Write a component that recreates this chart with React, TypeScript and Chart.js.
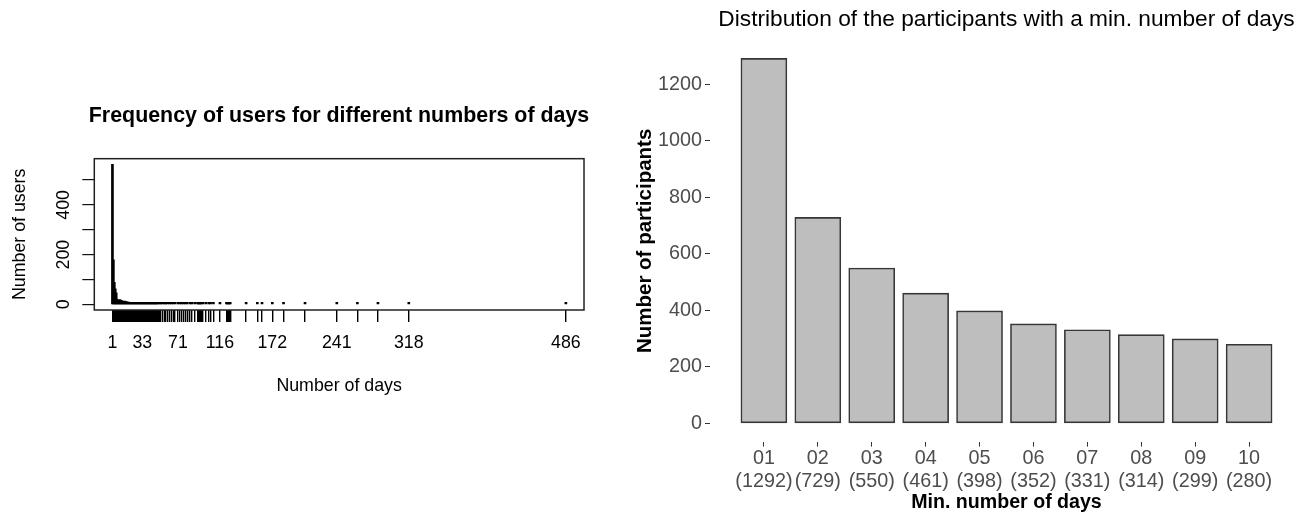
import React, { useEffect, useRef } from 'react';
import { Chart, registerables } from 'chart.js';

Chart.register(...registerables);

const FONT = '"Liberation Sans", Arial, Helvetica, sans-serif';

// ---------- Left chart: frequency of users per number of days ----------
const leftDays = [
  1, 2, 3, 4, 5, 6, 7, 8, 9, 10, 11, 12, 13, 14, 15, 16, 17, 18, 19, 20,
  21, 22, 23, 24, 25, 26, 27, 28, 29, 30, 31, 32, 33, 34, 35, 36, 37, 38, 39, 40,
  41, 42, 43, 44, 45, 46, 47, 48,
  49, 50, 52, 53, 55, 57, 58, 60, 62, 64, 66, 68, 71, 73, 75, 77, 79, 81, 84, 86,
  89, 92, 93, 94, 95, 96, 98, 101, 104, 106, 109, 116, 123, 124, 125, 126, 127,
  144, 156, 161, 172, 184, 207, 241, 263, 285, 318, 486,
];
const leftCounts = [
  563, 179, 89, 63, 46, 21, 17, 15, 19, 16, 14, 13, 12, 13, 11, 10, 9, 9, 7, 8,
  8, 7, 7, 5, 6, 5, 5, 4, 5, 4, 4, 3, 4, 3, 3, 3, 2, 3, 2, 2,
  2, 3, 2, 2, 2, 1, 2, 2,
  2, 2, 2, 1, 2, 1, 2, 1, 2, 1, 1, 2, 1, 1, 2, 1, 1, 1, 1, 1,
  1, 1, 1, 2, 1, 1, 1, 1, 1, 1, 1, 1, 1, 1, 1, 1, 1,
  1, 1, 1, 1, 1, 1, 1, 1, 1, 1, 1,
];
const leftLabeledDays = [1, 33, 71, 116, 172, 241, 318, 486];
const leftYTicks = [0, 100, 200, 300, 400, 500];
const leftYLabeled = [0, 200, 400];

// ---------- Right chart: participants with a min. number of days ----------
const rightCategories = ['01', '02', '03', '04', '05', '06', '07', '08', '09', '10'];
const rightPositions = [1, 2, 3, 4, 5, 6, 7, 8, 9, 10];
const rightValues = [1292, 729, 550, 461, 398, 352, 331, 314, 299, 280];
const rightYTicks = [0, 200, 400, 600, 800, 1000, 1200];

const framePlugin = {
  id: 'frame',
  afterDatasetsDraw(chart: any) {
    const { ctx, chartArea: a } = chart;
    ctx.save();
    ctx.strokeStyle = '#222';
    ctx.lineWidth = 1.5;
    ctx.strokeRect(a.left, a.top, a.right - a.left, a.bottom - a.top);
    ctx.restore();
  },
};

export default function App() {
  const leftRef = useRef<HTMLCanvasElement | null>(null);
  const rightRef = useRef<HTMLCanvasElement | null>(null);

  useEffect(() => {
    const left = new Chart(leftRef.current as HTMLCanvasElement, {
      type: 'bar',
      data: {
        datasets: [
          {
            data: leftDays.map((d, i) => ({ x: d, y: leftCounts[i] })),
            backgroundColor: '#000',
            borderWidth: 0,
            barThickness: 2,
            minBarLength: 2,
          } as any,
        ],
      },
      options: {
        responsive: false,
        animation: false,
        layout: { padding: { left: 0, right: 0, top: 0, bottom: 0 } },
        plugins: {
          legend: { display: false },
          tooltip: { enabled: false },
          title: {
            display: true,
            text: 'Frequency of users for different numbers of days',
            fullSize: true,
            color: '#000',
            font: { family: FONT, size: 21.4, weight: 'bold', lineHeight: 1.2 },
            padding: { top: 103.4, bottom: 29.6 },
          },
        },
        scales: {
          x: {
            type: 'linear',
            offset: false,
            min: -18.4,
            max: 505.4,
            afterFit: (s: any) => { s.height = 202; },
            afterBuildTicks: (s: any) => { s.ticks = leftDays.map((v) => ({ value: v })); },
            ticks: {
              autoSkip: false,
              maxRotation: 0,
              minRotation: 0,
              color: '#000',
              padding: 10.8,
              font: { family: FONT, size: 17.8, lineHeight: 1.2 },
              callback: (v: any) => (leftLabeledDays.includes(v) ? String(v) : ''),
            },
            grid: { display: true, offset: false, drawOnChartArea: false, drawTicks: true, tickLength: 12, color: '#000', lineWidth: 1.4 },
            border: { display: false },
            title: {
              display: true,
              text: 'Number of days',
              color: '#000',
              font: { family: FONT, size: 17.8, lineHeight: 1.2 },
              padding: { top: 0, bottom: 115.6 },
            },
          },
          y: {
            type: 'linear',
            min: -22.5,
            max: 585.5,
            afterFit: (s: any) => { s.width = 94.3; },
            afterBuildTicks: (s: any) => { s.ticks = leftYTicks.map((v) => ({ value: v })); },
            ticks: {
              autoSkip: false,
              minRotation: 90,
              maxRotation: 90,
              crossAlign: 'center',
              padding: 3.4,
              color: '#000',
              font: { family: FONT, size: 17.8, lineHeight: 1.2 },
              callback: (v: any) => (leftYLabeled.includes(v) ? String(v) : ''),
            },
            grid: { display: true, drawOnChartArea: false, drawTicks: true, tickLength: 12, color: '#111', lineWidth: 1.2 },
            border: { display: false },
            title: {
              display: true,
              text: 'Number of users',
              color: '#000',
              font: { family: FONT, size: 17.8, lineHeight: 1.2 },
              padding: { top: 9.3, bottom: 0 },
            },
          },
          // empty right-hand margin (R's right plot margin), nothing drawn
          yRight: {
            type: 'linear',
            position: 'right',
            display: true,
            afterFit: (s: any) => { s.width = 94; },
            ticks: { display: false },
            grid: { display: false, drawTicks: false },
            border: { display: false },
            title: { display: false },
          },
        },
      } as any,
      plugins: [framePlugin],
    });

    const right = new Chart(rightRef.current as HTMLCanvasElement, {
      type: 'bar',
      data: {
        datasets: [
          {
            data: rightPositions.map((p, i) => ({ x: p, y: rightValues[i] })),
            backgroundColor: '#BEBEBE',
            borderColor: '#363636',
            borderWidth: 1.6,
            borderSkipped: false,
            barThickness: 46,
          } as any,
        ],
      },
      options: {
        responsive: false,
        animation: false,
        layout: { padding: { left: 0, right: 8, top: 0, bottom: 0 } },
        plugins: {
          legend: { display: false },
          tooltip: { enabled: false },
          title: {
            display: true,
            text: 'Distribution of the participants with a min. number of days',
            fullSize: false,
            color: '#000',
            font: { family: FONT, size: 22.7, weight: 'normal', lineHeight: 1.2 },
            padding: { top: 6.4, bottom: 6.5 },
          },
        },
        scales: {
          x: {
            type: 'linear',
            offset: false,
            min: 0,
            max: 11,
            afterFit: (s: any) => { s.height = 70.4; },
            afterBuildTicks: (s: any) => { s.ticks = rightPositions.map((v) => ({ value: v })); },
            ticks: {
              autoSkip: false,
              maxRotation: 0,
              minRotation: 0,
              color: '#4D4D4D',
              padding: 0,
              font: { family: FONT, size: 19.8, lineHeight: 1.16 },
              callback: (_v: any, i: number) => [rightCategories[i], '(' + rightValues[i] + ')'],
            },
            grid: { display: true, offset: false, drawOnChartArea: false, drawTicks: true, tickLength: 5, color: '#333', lineWidth: 1 },
            border: { display: false },
            title: {
              display: true,
              text: 'Min. number of days',
              color: '#000',
              font: { family: FONT, size: 19.6, weight: 'bold', lineHeight: 1 },
              padding: { top: 0, bottom: -0.8 },
            },
          },
          y: {
            type: 'linear',
            min: -64.6,
            max: 1356.6,
            afterFit: (s: any) => { s.width = 90; },
            afterBuildTicks: (s: any) => { s.ticks = rightYTicks.map((v) => ({ value: v })); },
            ticks: {
              autoSkip: false,
              padding: 3,
              color: '#4D4D4D',
              font: { family: FONT, size: 19.8, lineHeight: 1.2 },
              callback: (v: any) => String(v),
            },
            grid: { display: true, drawOnChartArea: false, drawTicks: true, tickLength: 5, color: '#333', lineWidth: 1 },
            border: { display: false },
            title: {
              display: true,
              text: 'Number of participants',
              color: '#000',
              font: { family: FONT, size: 20.5, weight: 'bold', lineHeight: 1.2 },
              padding: { top: 12.7, bottom: 0 },
            },
          },
        },
      } as any,
    });

    return () => {
      left.destroy();
      right.destroy();
    };
  }, []);

  return (
    <div style={{ position: 'absolute', left: 0, top: 0, width: 1311, height: 512, background: '#fff', overflow: 'hidden' }}>
      <canvas ref={leftRef} width={678} height={512} style={{ position: 'absolute', left: 0, top: 0 }} />
      <canvas ref={rightRef} width={691} height={512} style={{ position: 'absolute', left: 620, top: 0 }} />
    </div>
  );
}
